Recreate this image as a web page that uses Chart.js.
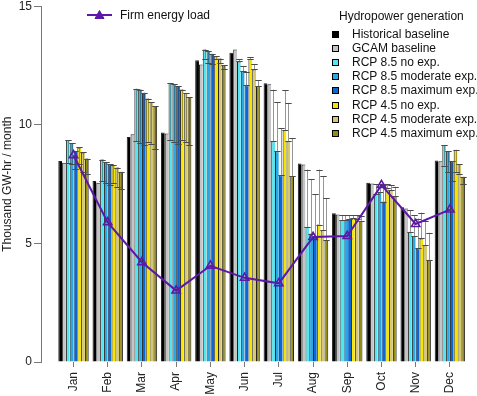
<!DOCTYPE html>
<html>
<head>
<meta charset="utf-8">
<script src="https://cdn.jsdelivr.net/npm/chart.js@4.4.1/dist/chart.umd.min.js"></script>
<style>
  html, body { margin: 0; padding: 0; background: #fff; }
  #wrap { position: relative; width: 477px; height: 396px; font-family: 'Liberation Sans', Arial, sans-serif; }
  canvas { position: absolute; left: 0; top: 0; }
  .lg { position: absolute; font-size: 12px; line-height: 14px; color: #111; white-space: nowrap; }
  .sq { position: absolute; width: 5px; height: 5px; border: 1px solid #000; }
</style>
</head>
<body>
<div id="wrap">
  <canvas id="c" width="477" height="396"></canvas>
  <div id="legend"></div>
</div>
<script>
// ---- data ----
const months = ['Jan','Feb','Mar','Apr','May','Jun','Jul','Aug','Sep','Oct','Nov','Dec'];

const seriesNames = ['Historical baseline','GCAM baseline','RCP 8.5 no exp.','RCP 8.5 moderate exp.',
  'RCP 8.5 maximum exp.','RCP 4.5 no exp.','RCP 4.5 moderate exp.','RCP 4.5 maximum exp.'];

const historical = [8.48, 7.64, 9.49, 9.68, 12.73, 13.05, 11.76, 8.37, 6.27, 7.56, 6.53, 8.50];
const gcam       = [8.41, 7.56, 9.61, 9.64, 12.55, 13.18, 11.72, 8.33, 6.22, 7.53, 6.47, 8.47];
const rcp85No    = [9.36, 8.54, 11.53, 11.77, 13.18, 12.68, 9.31, 5.70, 5.99, 7.09, 5.49, 9.15];
const rcp85Mod   = [9.24, 8.44, 11.49, 11.72, 13.12, 12.26, 8.89, 5.42, 5.99, 7.15, 5.32, 8.90];
const rcp85Max   = [8.90, 8.34, 11.36, 11.64, 13.00, 11.67, 7.88, 5.28, 6.03, 6.77, 4.79, 8.46];
const rcp45No    = [9.05, 8.30, 11.11, 11.49, 12.91, 12.78, 9.78, 5.80, 6.06, 7.34, 5.21, 8.95];
const rcp45Mod   = [8.84, 8.20, 10.97, 11.35, 12.80, 12.34, 9.31, 5.56, 6.05, 7.25, 4.93, 8.35];
const rcp45Max   = [8.58, 8.02, 10.80, 11.18, 12.52, 11.63, 7.84, 5.14, 5.96, 6.99, 4.31, 7.81];

// error ranges (low / high) for the RCP scenarios
const rcp85NoLow   = [8.40, 7.62, 9.31, 9.36, 12.80, 12.68, 9.31, 5.70, 5.99, 7.09, 5.49, 8.28];
const rcp85NoHigh  = [9.36, 8.54, 11.53, 11.77, 13.18, 12.78, 11.49, 8.12, 6.20, 7.50, 6.41, 9.15];
const rcp85ModLow  = [8.35, 7.55, 9.24, 9.28, 12.61, 12.26, 8.89, 5.42, 5.99, 7.15, 5.32, 8.02];
const rcp85ModHigh = [9.24, 8.44, 11.49, 11.72, 13.12, 12.49, 10.97, 7.70, 6.20, 7.50, 6.20, 8.90];
const rcp85MaxLow  = [8.15, 7.46, 9.14, 9.21, 12.55, 11.67, 7.88, 5.28, 6.03, 6.77, 4.79, 7.63];
const rcp85MaxHigh = [8.90, 8.34, 11.36, 11.64, 13.00, 12.24, 9.87, 7.07, 6.18, 7.45, 6.05, 8.46];
const rcp45NoLow   = [8.35, 7.53, 9.28, 9.38, 12.78, 12.78, 9.78, 5.80, 6.06, 7.34, 5.21, 8.00];
const rcp45NoHigh  = [9.05, 8.30, 11.11, 11.49, 12.91, 12.85, 11.46, 8.12, 6.20, 7.50, 6.30, 8.95];
const rcp45ModLow  = [8.02, 7.38, 9.19, 9.28, 12.60, 12.34, 9.31, 5.56, 6.05, 7.25, 4.93, 7.92];
const rcp45ModHigh = [8.84, 8.20, 10.97, 11.35, 12.80, 12.55, 10.93, 7.84, 6.18, 7.45, 5.95, 8.35];
const rcp45MaxLow  = [7.95, 7.28, 8.98, 9.14, 12.37, 11.63, 7.84, 5.14, 5.96, 6.99, 4.31, 7.50];
const rcp45MaxHigh = [8.58, 8.02, 10.80, 11.18, 12.52, 11.88, 9.45, 6.90, 6.15, 7.39, 5.45, 7.81];

const firmLoad = [8.72, 5.89, 4.21, 3.01, 4.06, 3.55, 3.32, 5.27, 5.31, 7.46, 5.82, 6.43];

// ---- styling ----
const colors = ['#000000','#c4c4c4','#52e6f0','#2aa8e6','#0b66d6','#f7e400','#d6c872','#978c12'];
const purple = '#5c18a6';
const FONT = "'Liberation Sans', Arial, sans-serif";

const barValues = [historical, gcam, rcp85No, rcp85Mod, rcp85Max, rcp45No, rcp45Mod, rcp45Max];
const lows  = [null, null, rcp85NoLow, rcp85ModLow, rcp85MaxLow, rcp45NoLow, rcp45ModLow, rcp45MaxLow];
const highs = [null, null, rcp85NoHigh, rcp85ModHigh, rcp85MaxHigh, rcp45NoHigh, rcp45ModHigh, rcp45MaxHigh];

const toXY = arr => arr.map((v, i) => ({x: i + 1, y: v}));

const datasets = barValues.map((vals, k) => ({
  type: 'bar',
  label: seriesNames[k],
  data: toXY(vals),
  backgroundColor: colors[k],
  borderColor: '#222',
  borderWidth: {top: 1, left: 1, right: k === 7 ? 1 : 0, bottom: 0},
  borderSkipped: false,
  categoryPercentage: 8 / 9,
  barPercentage: 1.0,
  order: 1,
  errLow: lows[k],
  errHigh: highs[k]
}));

datasets.push({
  type: 'line',
  label: 'Firm energy load',
  data: toXY(firmLoad),
  borderColor: purple,
  borderWidth: 2,
  pointStyle: 'triangle',
  pointRadius: 4.8,
  pointBorderWidth: 1.6,
  pointBorderColor: purple,
  pointBackgroundColor: 'rgba(0,0,0,0)',
  tension: 0,
  order: 0
});

const errorBars = {
  id: 'errorBars',
  afterDatasetDraw(chart, args) {
    if (args.index !== 0) return;
    const ctx = chart.ctx;
    const y = chart.scales.y;
    ctx.save();
    ctx.lineWidth = 1;
    chart.data.datasets.forEach((ds, di) => {
      if (!ds.errLow) return;
      const meta = chart.getDatasetMeta(di);
      meta.data.forEach((el, i) => {
        const lo = y.getPixelForValue(ds.errLow[i]);
        const hi = y.getPixelForValue(ds.errHigh[i]);
        const x = Math.round(el.x) + 0.5;
        const cw = 3.2;
        const insideBar = ds.errHigh[i] <= ds.data[i].y + 0.01;
        ctx.strokeStyle = insideBar ? 'rgba(60,60,60,0.45)' : 'rgba(130,130,130,0.85)';
        ctx.beginPath();
        ctx.moveTo(x, lo); ctx.lineTo(x, hi);
        ctx.stroke();
        ctx.strokeStyle = '#4a4a4a';
        ctx.beginPath();
        ctx.moveTo(x - cw, Math.round(lo) + 0.5); ctx.lineTo(x + cw, Math.round(lo) + 0.5);
        ctx.moveTo(x - cw, Math.round(hi) + 0.5); ctx.lineTo(x + cw, Math.round(hi) + 0.5);
        ctx.stroke();
      });
    });
    ctx.restore();
  }
};

new Chart(document.getElementById('c'), {
  type: 'bar',
  data: { datasets },
  plugins: [errorBars],
  options: {
    responsive: false,
    animation: false,
    layout: { padding: { top: 6, right: 0, left: 0, bottom: 0 } },
    plugins: { legend: { display: false }, tooltip: { enabled: false } },
    scales: {
      x: {
        type: 'linear',
        min: 0.05,
        max: 12.605,
        offset: false,
        border: { display: false },
        grid: { offset: false, drawOnChartArea: false, drawTicks: true, tickLength: 5, color: '#777' },
        ticks: {
          autoSkip: false, maxRotation: 90, minRotation: 90, padding: 5,
          font: { family: FONT, size: 12 }, color: '#222',
          callback: v => months[v - 1]
        },
        afterBuildTicks: s => { s.ticks = months.map((m, i) => ({ value: i + 1 })); },
        afterFit: s => { s.height = 34; s.paddingLeft = 0; s.paddingRight = 0; }
      },
      y: {
        min: 0, max: 15,
        border: { display: true, color: '#777', width: 1 },
        grid: { drawOnChartArea: false, tickLength: 7, color: '#777' },
        ticks: { stepSize: 5, padding: 2, font: { family: FONT, size: 12 }, color: '#222' },
        title: { display: true, text: 'Thousand GW-hr / month', font: { family: FONT, size: 12 }, color: '#222', padding: { top: 0, bottom: 3 } },
        afterFit: s => { s.width = 41; s.paddingTop = 0; s.paddingBottom = 0; }
      }
    }
  }
});

// ---- legends (HTML text) ----
const lg = document.getElementById('legend');
let html = '';
html += '<svg style="position:absolute;left:86px;top:9px" width="27" height="12">' +
        '<line x1="1" y1="6" x2="26" y2="6" stroke="' + purple + '" stroke-width="2"/>' +
        '<polygon points="13.5,1.5 18,9.5 9,9.5" fill="' + purple + '" stroke="' + purple + '" stroke-width="1"/></svg>';
html += '<div class="lg" style="left:120px;top:8px">Firm energy load</div>';
html += '<div class="lg" style="left:339px;top:9px">Hydropower generation</div>';
seriesNames.forEach((n, k) => {
  const cy = 34.3 + k * 14.15;
  html += '<div class="sq" style="left:332px;top:' + (cy - 3.5) + 'px;background:' + colors[k] + '"></div>';
  html += '<div class="lg" style="left:352px;top:' + (cy - 7.5) + 'px">' + n + '</div>';
});
lg.innerHTML = html;
</script>
</body>
</html>
